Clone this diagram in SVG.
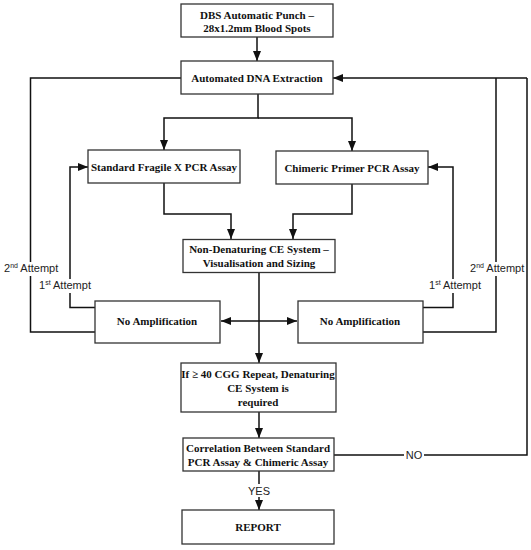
<svg xmlns="http://www.w3.org/2000/svg" width="531" height="550" viewBox="0 0 531 550">
<style>
.box{fill:#fff;stroke:#333;stroke-width:1.3}
.bt{font-family:"Liberation Serif","Times New Roman",serif;font-weight:bold;font-size:11px;fill:#111;text-anchor:middle}
.lb{font-family:"Liberation Sans",Arial,sans-serif;font-size:11px;fill:#222}
.ln{fill:none;stroke:#111;stroke-width:1.5}
.sup{font-size:7px}
</style>
<defs>
<marker id="ah" markerWidth="10" markerHeight="8" refX="10" refY="4" orient="auto" markerUnits="userSpaceOnUse">
<path d="M0,0 L10,4 L0,8 Z" fill="#111"/>
</marker>
</defs>
<rect width="531" height="550" fill="#fff"/>
<g id="connectors">
<path class="ln" d="M257,37 V61" marker-end="url(#ah)"/>
<path class="ln" d="M258,94 V118 H164 V150" marker-end="url(#ah)"/>
<path class="ln" d="M258,118 H352 V151" marker-end="url(#ah)"/>
<path class="ln" d="M164,183 V214 H231 V239" marker-end="url(#ah)"/>
<path class="ln" d="M352,184 V214 H293 V239" marker-end="url(#ah)"/>
<path class="ln" d="M259,272 V363" marker-end="url(#ah)"/>
<path class="ln" d="M259,321 H221" marker-end="url(#ah)"/>
<path class="ln" d="M259,321 H297" marker-end="url(#ah)"/>
<path class="ln" d="M95,307.5 H70 V167 H88" marker-end="url(#ah)"/>
<path class="ln" d="M95,332 H30.5 V78 H181"/>
<path class="ln" d="M423,307.5 H453 V167 H428" marker-end="url(#ah)"/>
<path class="ln" d="M423,332 H496 V78"/>
<path class="ln" d="M527,78 H333" marker-end="url(#ah)"/>
<path class="ln" d="M334,455 H527 V78"/>
<path class="ln" d="M259,412 V438" marker-end="url(#ah)"/>
<path class="ln" d="M259,471 V510" marker-end="url(#ah)"/>
<rect x="2" y="262" width="56" height="14" fill="#fff"/>
<rect x="38" y="279" width="53" height="14" fill="#fff"/>
<rect x="427" y="279" width="54" height="14" fill="#fff"/>
<rect x="468" y="262" width="57" height="14" fill="#fff"/>
<rect x="404" y="449" width="20" height="12" fill="#fff"/>
<rect x="245" y="484" width="28" height="13" fill="#fff"/>
<text class="lb" x="4" y="272">2<tspan class="sup" dy="-4">nd</tspan><tspan dy="4"> Attempt</tspan></text>
<text class="lb" x="39" y="289">1<tspan class="sup" dy="-4">st</tspan><tspan dy="4"> Attempt</tspan></text>
<text class="lb" x="429" y="289">1<tspan class="sup" dy="-4">st</tspan><tspan dy="4"> Attempt</tspan></text>
<text class="lb" x="470" y="272">2<tspan class="sup" dy="-4">nd</tspan><tspan dy="4"> Attempt</tspan></text>
<text class="lb" x="414" y="459" text-anchor="middle">NO</text>
<text class="lb" x="259" y="495" text-anchor="middle">YES</text>
</g>
<g id="n1"><rect class="box" x="181" y="4" width="152" height="33"/><text class="bt" x="257" y="19">DBS Automatic Punch –</text><text class="bt" x="257" y="32">28x1.2mm Blood Spots</text></g>
<g id="n2"><rect class="box" x="181" y="61" width="152" height="33"/><text class="bt" x="257" y="82">Automated DNA Extraction</text></g>
<g id="n3"><rect class="box" x="88" y="150" width="152" height="33"/><text class="bt" x="164" y="171">Standard Fragile X PCR Assay</text></g>
<g id="n4"><rect class="box" x="276" y="151" width="152" height="33"/><text class="bt" x="352" y="172">Chimeric Primer PCR Assay</text></g>
<g id="n5"><rect class="box" x="183" y="239.5" width="152" height="33"/><text class="bt" x="259" y="253">Non-Denaturing CE System –</text><text class="bt" x="259" y="267">Visualisation and Sizing</text></g>
<g id="n6"><rect class="box" x="95" y="301" width="125" height="42"/><text class="bt" x="157" y="325">No Amplification</text></g>
<g id="n7"><rect class="box" x="298" y="301" width="125" height="42"/><text class="bt" x="360" y="325">No Amplification</text></g>
<g id="n8"><rect class="box" x="181" y="363" width="155" height="49"/><text class="bt" x="258" y="378">If ≥ 40 CGG Repeat, Denaturing</text><text class="bt" x="258" y="392">CE System is</text><text class="bt" x="258" y="406">required</text></g>
<g id="n9"><rect class="box" x="183" y="438" width="151" height="33"/><text class="bt" x="258" y="452">Correlation Between Standard</text><text class="bt" x="258" y="466">PCR Assay &amp; Chimeric Assay</text></g>
<g id="n10"><rect class="box" x="182" y="510" width="152" height="34"/><text class="bt" x="258" y="531">REPORT</text></g>
</svg>
